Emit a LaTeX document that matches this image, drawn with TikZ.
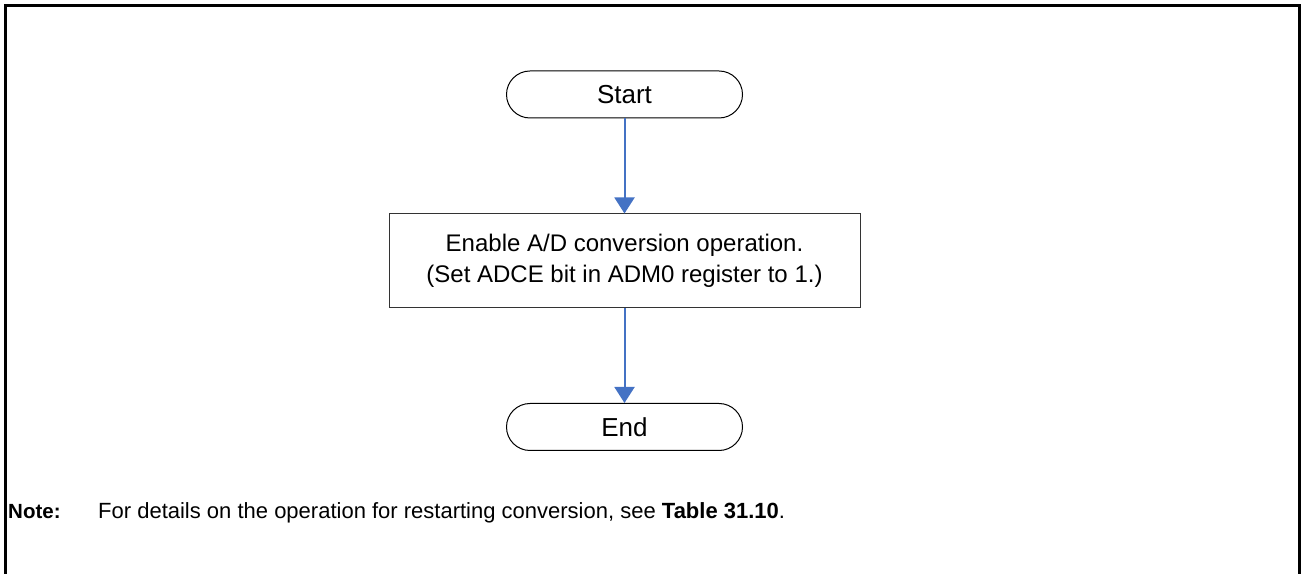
\documentclass[tikz,border=0pt]{standalone}
\usepackage{fontspec}
\setmainfont{Liberation Sans}
\usetikzlibrary{arrows.meta}
\definecolor{flowblue}{HTML}{4472C4}
\begin{document}
\begin{tikzpicture}[x=1pt,y=1pt,
  term/.style={draw=black, line width=1pt, rounded corners=23.5pt, minimum width=236pt, minimum height=47pt, inner sep=0pt, font=\fontsize{26}{30}\selectfont},
  procbox/.style={draw=black!80, line width=1pt, minimum width=471pt, minimum height=94pt, inner sep=0pt, align=center, font=\fontsize{24}{31}\selectfont},
  flow/.style={draw=flowblue, line width=2pt, -{Triangle[width=20pt,length=16pt]}},
  frameline/.style={line width=3pt, draw=black},
  notetext/.style={anchor=base west, inner sep=0pt}]
\useasboundingbox (0,0) rectangle (1301,573);
\draw[frameline] (5.5,-2) -- (5.5,567.5) -- (1299,567.5) -- (1299,-2);
\node[term] (start) at (624.5,478.5) {Start};
\node[procbox] (proc) at (624.5,312) {Enable A/D conversion operation.\\(Set ADCE bit in ADM0 register to 1.)};
\node[term] (end) at (624.5,146) {End};
\draw[flow] (start) -- (proc);
\draw[flow] (proc) -- (end);
\node[notetext, font=\fontsize{20.5}{24}\selectfont] (notelabel) at (8,54) {\textbf{Note:}};
\node[notetext, font=\fontsize{22}{26}\selectfont] (notebody) at (98,54) {For details on the operation for restarting conversion, see \textbf{Table 31.10}.};
\end{tikzpicture}
\end{document}
